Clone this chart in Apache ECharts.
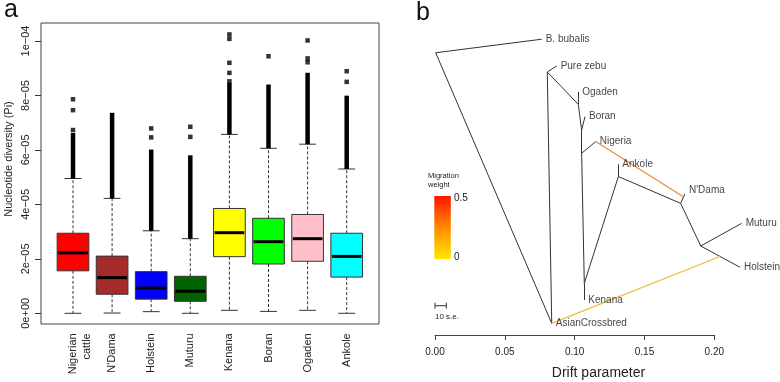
<!DOCTYPE html>
<html>
<head>
<meta charset="utf-8">
<script src="https://cdn.jsdelivr.net/npm/echarts@6/dist/echarts.min.js"></script>
<style>
html, body { margin: 0; padding: 0; background: #fff; }
#chart { width: 780px; height: 382px; }
</style>
</head>
<body>
<div id="chart"></div>
<script>
// ---- panel a: nucleotide diversity (values in units of 1e-5) ----
var breeds = ['Nigerian\ncattle', "N'Dama", 'Holstein', 'Muturu', 'Kenana', 'Boran', 'Ogaden', 'Ankole'];
var whiskerLow = [0, 0.01, 0.06, 0, 0.11, 0.07, 0.11, 0];
var quart1 = [1.56, 0.70, 0.52, 0.44, 2.08, 1.81, 1.91, 1.33];
var medians = [2.22, 1.31, 0.93, 0.81, 2.96, 2.63, 2.74, 2.09];
var quart3 = [2.94, 2.10, 1.53, 1.36, 3.85, 3.49, 3.63, 2.94];
var whiskerHigh = [4.95, 4.22, 3.03, 2.74, 6.57, 6.06, 6.21, 5.30];
// outliers packed so tight they form a solid column, whisker -> this value
var denseOutlierTop = [6.54, 7.28, 5.93, 5.72, 8.38, 8.32, 8.75, 7.91];
// separate outlier points above the column
var sparseOutliers = [
	[6.73, 7.46, 7.86],
	[],
	[6.46, 6.79],
	[6.48, 6.85],
	[8.52, 8.83, 9.20, 10.08, 10.24],
	[9.44],
	[9.22, 9.36, 10.02],
	[8.50, 8.89]
];
var yTickLabels = ['0e+00', '2e\u221205', '4e\u221205', '6e\u221205', '8e\u221205', '1e\u221204'];

// ---- panel b: treemix tree (drift parameter, vertical layout 0..1) ----
var nodeNames = ['', 'B. bubalis', 'AsianCrossbred', '', 'Pure zebu', '', 'Ogaden', '', 'Boran', '', 'Nigeria',
	'', 'Kenana', '', 'Ankole', '', "N'Dama", '', 'Muturu', 'Holstein'];
var nodeDrift = [0.0005, 0.0764, 0.0836, 0.0804, 0.0871, 0.1026, 0.1026, 0.1050, 0.1074, 0.1050, 0.1151,
	0.1069, 0.1069, 0.1313, 0.1313, 0.1759, 0.1790, 0.1903, 0.2196, 0.2184];
var nodeY = [0.896, 0.939, 0.037, 0.835, 0.854, 0.732, 0.772, 0.651, 0.693, 0.577, 0.614,
	0.164, 0.111, 0.503, 0.542, 0.418, 0.448, 0.2825, 0.3546, 0.215];
var treeEdges = [[0, 1], [0, 2], [2, 3], [3, 4], [3, 5], [5, 6], [5, 7], [7, 8], [7, 9], [9, 10], [9, 11],
	[11, 12], [11, 13], [13, 14], [13, 15], [15, 16], [15, 17], [17, 18], [17, 19]];
// migration edges: source node, landing point on the target branch
var migFrom = [10, 2];
var migToDrift = [0.1778, 0.2041];
var migToY = [0.439, 0.249];
var seBarDrift = 0.0081;   // length of 10 s.e.

var boxColors = ['#FF0000', '#A52A2A', '#0000FF', '#006400', '#FFFF00', '#00FF00', '#FFC0CB', '#00FFFF'];
var migColors = ['#F28A2B', '#F5B73C'];
var FONT = '"Liberation Sans", Arial, Helvetica, sans-serif';

var chart = echarts.init(document.getElementById('chart'));

function renderBox(params, api) {
	var i = api.value(0);
	var x = api.coord([i, 0])[0];
	var band = api.size([1, 0])[0];
	var bw = band * 0.81, cw = band * 0.43;
	var yLo = api.coord([i, api.value(1)])[1];
	var yQ1 = api.coord([i, api.value(2)])[1];
	var yMd = api.coord([i, api.value(3)])[1];
	var yQ3 = api.coord([i, api.value(4)])[1];
	var yHi = api.coord([i, api.value(5)])[1];
	var dash = { stroke: '#333', lineWidth: 1, lineDash: [3, 2] };
	var solid = { stroke: '#333', lineWidth: 1 };
	return {
		type: 'group',
		children: [
			{ type: 'line', shape: { x1: x, y1: yQ3, x2: x, y2: yHi }, style: dash },
			{ type: 'line', shape: { x1: x, y1: yQ1, x2: x, y2: yLo }, style: dash },
			{ type: 'line', shape: { x1: x - cw / 2, y1: yHi, x2: x + cw / 2, y2: yHi }, style: solid },
			{ type: 'line', shape: { x1: x - cw / 2, y1: yLo, x2: x + cw / 2, y2: yLo }, style: solid },
			{ type: 'rect', shape: { x: x - bw / 2, y: yQ3, width: bw, height: yQ1 - yQ3 },
				style: { fill: boxColors[i], stroke: '#333', lineWidth: 1 } },
			{ type: 'line', shape: { x1: x - bw / 2 + 1, y1: yMd, x2: x + bw / 2 - 1, y2: yMd },
				style: { stroke: '#000', lineWidth: 3 } }
		]
	};
}

function renderDense(params, api) {
	var i = api.value(0);
	var x = api.coord([i, 0])[0];
	var y0 = api.coord([i, api.value(1)])[1];
	var y1 = api.coord([i, api.value(2)])[1];
	return { type: 'rect', shape: { x: x - 2.25, y: y1 - 2.25, width: 4.5, height: y0 - y1 + 2.25 },
		style: { fill: '#000' } };
}

function renderSeBar(params, api) {
	var p0 = api.coord([api.value(0), api.value(1)]);
	var p1 = api.coord([api.value(2), api.value(1)]);
	var st = { stroke: '#333', lineWidth: 1 };
	return {
		type: 'group',
		children: [
			{ type: 'line', shape: { x1: p0[0], y1: p0[1], x2: p1[0], y2: p1[1] }, style: st },
			{ type: 'line', shape: { x1: p0[0], y1: p0[1] - 3, x2: p0[0], y2: p0[1] + 3 }, style: st },
			{ type: 'line', shape: { x1: p1[0], y1: p1[1] - 3, x2: p1[0], y2: p1[1] + 3 }, style: st },
			{ type: 'text', style: { text: '10 s.e.', x: p0[0], y: p0[1] + 11, font: '8px ' + FONT,
				fill: '#222', verticalAlign: 'middle' } }
		]
	};
}

var boxData = breeds.map(function (b, i) {
	return [i, whiskerLow[i], quart1[i], medians[i], quart3[i], whiskerHigh[i]];
});
var denseData = breeds.map(function (b, i) { return [i, whiskerHigh[i], denseOutlierTop[i]]; });
var outlierPts = [];
sparseOutliers.forEach(function (arr, i) {
	arr.forEach(function (v) { outlierPts.push([i, v]); });
});

var treeLines = treeEdges.map(function (e) {
	return { coords: [[nodeDrift[e[0]], nodeY[e[0]]], [nodeDrift[e[1]], nodeY[e[1]]]] };
});
var migLines = migFrom.map(function (f, k) {
	return { coords: [[nodeDrift[f], nodeY[f]], [migToDrift[k], migToY[k]]], lineStyle: { color: migColors[k] } };
});
var leafPts = [];
nodeNames.forEach(function (n, i) {
	if (n) {
		leafPts.push({ value: [nodeDrift[i], nodeY[i]], name: n,
			label: n === "N'Dama" ? { offset: [0, -4] } : {} });
	}
});

// R puts the first line of a two-line label on the tick, so pad with an empty line in front
var categoryLabels = breeds.map(function (b) {
	return b.indexOf('\n') >= 0 ? '\u00a0\n' + b : b;
});

var option = {
	animation: false,
	backgroundColor: '#fff',
	textStyle: { fontFamily: FONT },
	grid: [
		{ left: 41, top: 23, width: 338, height: 301, show: true, borderColor: '#444', borderWidth: 1,
			backgroundColor: 'transparent' },
		{ left: 53.45, top: 41, width: 312.8, height: 272.3 },
		{ left: 435, top: 20, width: 279.3, height: 315 }
	],
	xAxis: [
		{ gridIndex: 0, type: 'value', show: false },
		{ gridIndex: 1, type: 'category', data: categoryLabels, offset: 11,
			axisLine: { show: false },
			axisTick: { alignWithLabel: true, length: 6, lineStyle: { color: '#333' } },
			axisLabel: { rotate: 90, margin: 9, fontSize: 11, lineHeight: 14, color: '#222', interval: 0 } },
		{ gridIndex: 2, type: 'value', min: 0, max: 0.2, interval: 0.05,
			axisLine: { lineStyle: { color: '#444' } },
			axisTick: { length: 5, lineStyle: { color: '#444' } },
			splitLine: { show: false },
			axisLabel: { fontSize: 10, color: '#222', margin: 12,
				formatter: function (v) { return v.toFixed(2); } } }
	],
	yAxis: [
		{ gridIndex: 0, type: 'value', show: false },
		{ gridIndex: 1, type: 'value', min: 0, max: 10, interval: 2, offset: 12.45,
			axisLine: { show: false },
			axisTick: { show: true, length: 6, lineStyle: { color: '#333' } },
			splitLine: { show: false },
			axisLabel: { rotate: 90, margin: 10, fontSize: 11, color: '#222',
				formatter: function (v) { return yTickLabels[Math.round(v / 2)]; } } },
		{ gridIndex: 2, type: 'value', min: 0, max: 1, show: false }
	],
	series: [
		{ type: 'custom', xAxisIndex: 1, yAxisIndex: 1, renderItem: renderBox, data: boxData,
			encode: { x: 0, y: [1, 2, 3, 4, 5] }, clip: false, silent: true },
		{ type: 'custom', xAxisIndex: 1, yAxisIndex: 1, renderItem: renderDense, data: denseData,
			encode: { x: 0, y: [1, 2] }, clip: false, silent: true },
		{ type: 'scatter', xAxisIndex: 1, yAxisIndex: 1, data: outlierPts, symbol: 'rect',
			symbolSize: 4.5, itemStyle: { color: '#000' }, clip: false, silent: true },
		{ type: 'lines', coordinateSystem: 'cartesian2d', xAxisIndex: 2, yAxisIndex: 2, data: treeLines,
			lineStyle: { color: '#333', width: 1, opacity: 1 }, clip: false, silent: true },
		{ type: 'lines', coordinateSystem: 'cartesian2d', xAxisIndex: 2, yAxisIndex: 2, data: migLines,
			lineStyle: { width: 1.2, opacity: 1 }, clip: false, silent: true },
		{ type: 'scatter', xAxisIndex: 2, yAxisIndex: 2, data: leafPts, symbolSize: 0, clip: false, silent: true,
			label: { show: true, position: 'right', distance: 4, formatter: '{b}', fontSize: 10, color: '#111' } },
		{ type: 'custom', xAxisIndex: 2, yAxisIndex: 2, renderItem: renderSeBar,
			data: [[0, 0.093, seBarDrift]], encode: { x: [0, 2], y: 1 }, clip: false, silent: true }
	],
	graphic: [
		{ type: 'text', x: 4, y: 10, style: { text: 'a', font: '25px ' + FONT, fill: '#111', verticalAlign: 'middle' } },
		{ type: 'text', x: 416, y: 13, style: { text: 'b', font: '25px ' + FONT, fill: '#111', verticalAlign: 'middle' } },
		{ type: 'text', x: 9, y: 159, rotation: Math.PI / 2,
			style: { text: 'Nucleotide diversity (Pi)', font: '11px ' + FONT, fill: '#222',
				align: 'center', verticalAlign: 'middle' } },
		{ type: 'text', x: 598.5, y: 373,
			style: { text: 'Drift parameter', font: '14px ' + FONT, fill: '#222',
				align: 'center', verticalAlign: 'middle' } },
		{ type: 'text', x: 428, y: 176,
			style: { text: 'Migration', font: '7.5px ' + FONT, fill: '#222', verticalAlign: 'middle' } },
		{ type: 'text', x: 428, y: 184.5,
			style: { text: 'weight', font: '7.5px ' + FONT, fill: '#222', verticalAlign: 'middle' } },
		{ type: 'rect', shape: { x: 434.3, y: 196, width: 16.5, height: 63 },
			style: { fill: new echarts.graphic.LinearGradient(0, 0, 0, 1, [
				{ offset: 0, color: '#FF1200' }, { offset: 0.5, color: '#FF8A00' }, { offset: 1, color: '#FFE800' }
			]) } },
		{ type: 'text', x: 454, y: 198,
			style: { text: '0.5', font: '10px ' + FONT, fill: '#222', verticalAlign: 'middle' } },
		{ type: 'text', x: 454, y: 257,
			style: { text: '0', font: '10px ' + FONT, fill: '#222', verticalAlign: 'middle' } }
	]
};
chart.setOption(option);
</script>
</body>
</html>
